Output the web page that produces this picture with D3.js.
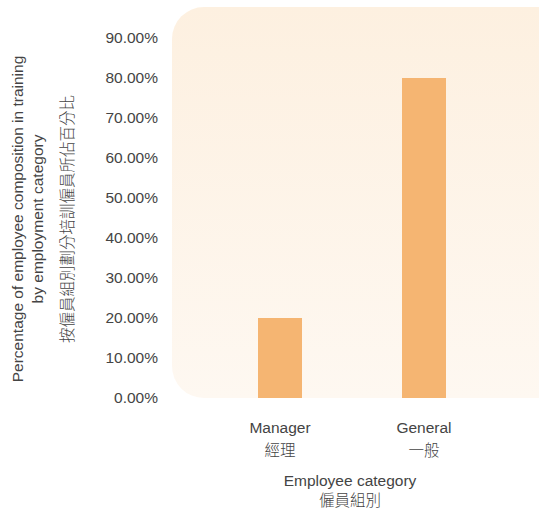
<!DOCTYPE html>
<html><head><meta charset="utf-8">
<script src="https://cdn.jsdelivr.net/npm/d3@7"></script>
<style>body{margin:0;background:#fff}svg{display:block}text{font-family:"Liberation Sans","Noto Sans CJK TC",sans-serif;fill:#444;font-weight:300}</style>
</head><body><svg id="c" width="539" height="510"></svg>
<script>
const categoriesEn = ["Manager", "General"];
const categoriesZh = ["經理", "一般"];
const values = [0.20, 0.80];
const yTicks = [0, 0.1, 0.2, 0.3, 0.4, 0.5, 0.6, 0.7, 0.8, 0.9];
const yTitle = ["Percentage of employee composition in training", "by employment category", "按僱員組別劃分培訓僱員所佔百分比"];
const xTitle = ["Employee category", "僱員組別"];

const svg = d3.select("#c");
const defs = svg.append("defs");
const g = defs.append("linearGradient").attr("id","bg").attr("x1",0).attr("y1",0).attr("x2",0).attr("y2",1);
g.append("stop").attr("offset","0%").attr("stop-color","#fdf0e0");
g.append("stop").attr("offset","100%").attr("stop-color","#fef8f1");

const y = d3.scaleLinear().domain([0, 0.9]).range([398, 38]);
const x = d3.scaleBand().domain(categoriesEn).range([208, 496]).paddingInner(0);

svg.append("rect").attr("x",172).attr("y",7).attr("width",400).attr("height",391)
  .attr("rx",32).attr("fill","url(#bg)");

svg.selectAll("rect.bar").data(values).join("rect").attr("class","bar")
  .attr("x",(d,i)=>x(categoriesEn[i]) + x.bandwidth()/2 - 22)
  .attr("width",44)
  .attr("y",d=>y(d)).attr("height",d=>y(0)-y(d))
  .attr("fill","#f5b572");

const FS = 15.5;
const yAxis = svg.append("g").attr("transform","translate(172,0)")
  .call(d3.axisLeft(y).tickValues(yTicks).tickFormat(d=>(d*100).toFixed(2)+"%").tickSize(0).tickPadding(14));
yAxis.select(".domain").remove();
yAxis.selectAll("text").attr("font-size",FS).style("font-family",'"Liberation Sans",sans-serif').attr("fill","#444");

const xl = svg.append("g");
categoriesEn.forEach((c,i)=>{
  const cx = x(c)+x.bandwidth()/2;
  xl.append("text").attr("x",cx).attr("y",433).attr("text-anchor","middle").attr("font-size",FS).text(c);
  xl.append("text").attr("x",cx).attr("y",456).attr("text-anchor","middle").attr("font-size",FS).text(categoriesZh[i]);
});
svg.append("text").attr("x",350).attr("y",486).attr("text-anchor","middle").attr("font-size",FS).text(xTitle[0]);
svg.append("text").attr("x",350).attr("y",506).attr("text-anchor","middle").attr("font-size",FS).text(xTitle[1]);

const yt = [[23,yTitle[0]],[43,yTitle[1]],[73,yTitle[2]]];
yt.forEach(([px,t])=>{
  svg.append("text").attr("transform",`translate(${px},219) rotate(-90)`).attr("text-anchor","middle").attr("font-size",FS).text(t);
});
</script></body></html>
